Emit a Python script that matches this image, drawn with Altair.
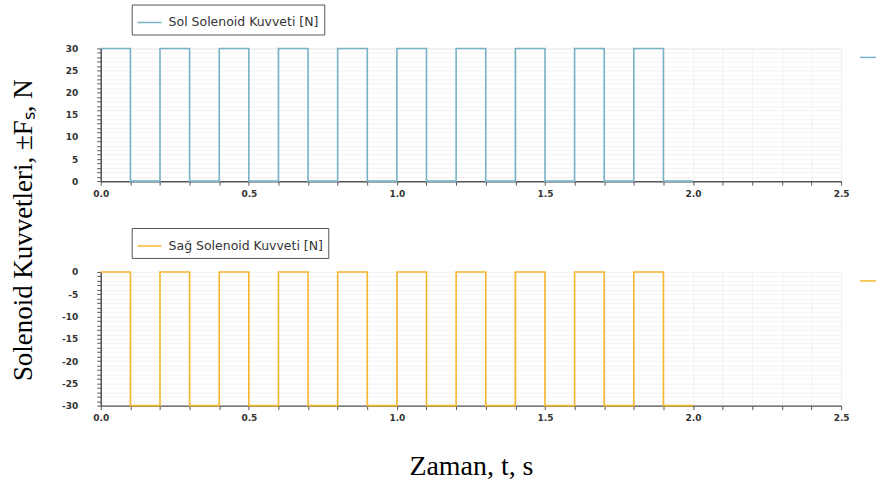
import altair as alt
import pandas as pd

# time points (s) where the step signals change
times = [0.0, 0.1, 0.2, 0.3, 0.4, 0.5, 0.6, 0.7, 0.8, 0.9, 1.0,
         1.1, 1.2, 1.3, 1.4, 1.5, 1.6, 1.7, 1.8, 1.9, 2.0]
# left solenoid force [N]
sol = [30, 0, 30, 0, 30, 0, 30, 0, 30, 0, 30,
       0, 30, 0, 30, 0, 30, 0, 30, 0, 0]
# right solenoid force [N]
sag = [0, -30, 0, -30, 0, -30, 0, -30, 0, -30, 0,
       -30, 0, -30, 0, -30, 0, -30, 0, -30, -30]

x_ticks = [round(i * 0.1, 1) for i in range(0, 26)]
y_ticks_top = list(range(0, 31))
y_ticks_bot = list(range(-30, 1))

sol_name = "Sol Solenoid Kuvveti [N]"
sag_name = "Sağ Solenoid Kuvveti [N]"

df_sol = pd.DataFrame({"t": times, "F": sol, "s": sol_name})
df_sag = pd.DataFrame({"t": times, "F": sag, "s": sag_name})

W, H1, H2 = 742, 133, 134
label_font = "DejaVu Sans"


def panel(df, name, color, yticks, ydom, xtitle, h):
    xaxis = alt.Axis(
        values=x_ticks,
        labelExpr="abs(datum.value*2 - round(datum.value*2)) < 0.001 ? format(datum.value, '.1f') : ''",
        title=xtitle,
        titleFont="Liberation Serif", titleFontSize=28, titleFontWeight="normal",
        titleColor="#000", titlePadding=30,
        labelFont=label_font, labelFontSize=9, labelFontWeight="bold", labelColor="#333",
        labelPadding=4, tickSize=4, tickColor="#555", domainColor="#555", domainWidth=1.5,
        gridColor="#f0f0f0", labelFlush=False,
    )
    yaxis = alt.Axis(
        values=yticks,
        labelExpr="datum.value % 5 == 0 ? datum.value : ''",
        title=None,
        labelFont=label_font, labelFontSize=9, labelFontWeight="bold", labelColor="#333",
        labelPadding=19, tickSize=4, tickColor="#555", domainColor="#555", domainWidth=1.5,
        gridColor="#f3f3f3",
    )
    lines = alt.Chart(df).mark_line(interpolate="step-after", strokeWidth=1.6).encode(
        x=alt.X("t:Q", scale=alt.Scale(domain=[0, 2.5], nice=False), axis=xaxis),
        y=alt.Y("F:Q", scale=alt.Scale(domain=ydom, nice=False), axis=yaxis),
        color=alt.Color("s:N", scale=alt.Scale(domain=[name], range=[color]),
                        legend=alt.Legend(
                            title=None, orient="none", legendX=31, legendY=-44,
                            symbolType="stroke", symbolSize=576, symbolStrokeWidth=1.5,
                            labelFont=label_font, labelFontSize=12.5, labelColor="#333",
                            strokeColor="#555", fillColor="white", padding=5,
                            labelOffset=6)),
    )
    # cut-off legend fragment at the right edge of the original picture
    frag = alt.Chart(df.head(1)).mark_rule(color=color, strokeWidth=1.5).encode(
        x=alt.value(W + 19), x2=alt.value(W + 35), y=alt.value(9))
    return alt.layer(lines, frag).properties(width=W, height=h)


top = panel(df_sol, sol_name, "#79b2c6", y_ticks_top, [0, 30], None, H1)
bot = panel(df_sag, sag_name, "#f5b72e", y_ticks_bot, [-30, 0], "Zaman, t, s", H2)

chart = alt.vconcat(top, bot, spacing=28).resolve_scale(color="independent").properties(
    title=alt.TitleParams(
        "Solenoid Kuvvetleri, ±Fₛ, N", orient="left", anchor="middle",
        font="Liberation Serif", fontSize=27, fontWeight="normal", color="#000",
        offset=23, dx=12),
    padding={"left": 10, "top": 3, "right": 0, "bottom": 0},
).configure_view(stroke="#dddddd")

chart.save("out.html", embed_options={"renderer": "svg", "actions": False})
